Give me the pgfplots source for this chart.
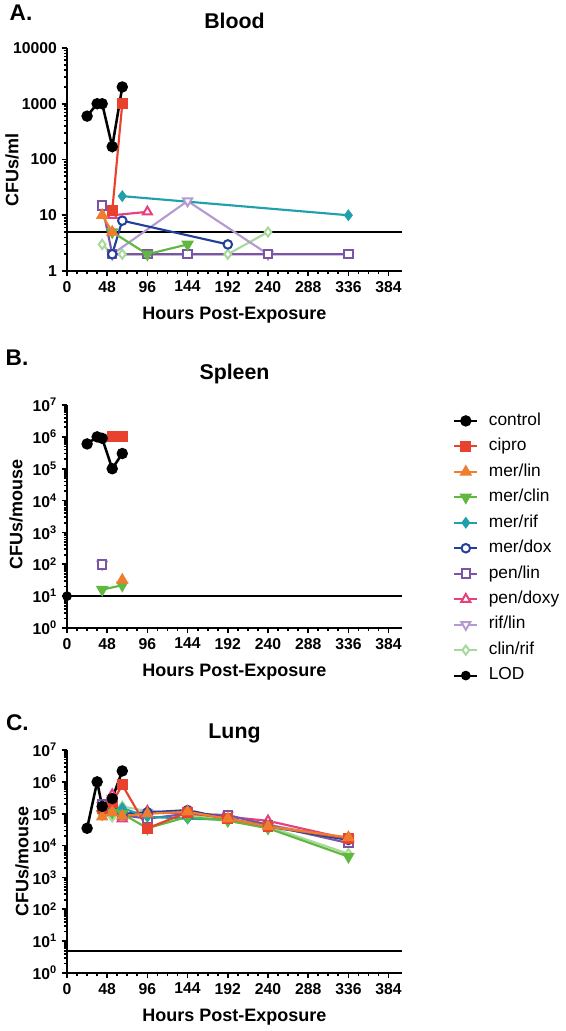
\documentclass[border=0pt]{standalone}
\usepackage{fontspec}
\setmainfont{Liberation Sans}
\usepackage{pgfplots}
\pgfplotsset{compat=1.18}

\definecolor{cCipro}{RGB}{232,66,47}
\definecolor{cMerLin}{RGB}{240,124,46}
\definecolor{cMerClin}{RGB}{96,184,64}
\definecolor{cMerRif}{RGB}{31,160,172}
\definecolor{cMerDox}{RGB}{34,64,154}
\definecolor{cPenLin}{RGB}{123,85,163}
\definecolor{cPenDoxy}{RGB}{232,64,122}
\definecolor{cRifLin}{RGB}{180,154,208}
\definecolor{cClinRif}{RGB}{166,217,154}

\tikzset{
  sControl/.style={black, line width=1.9pt, mark=*, mark size=3.3pt, mark options={solid}},
  sCipro/.style={cCipro, line width=1.6pt, mark=square*, mark size=3.3pt, mark options={solid}},
  sMerLin/.style={cMerLin, line width=1.6pt, mark=triangle*, mark size=3.9pt, mark options={solid}},
  sMerClin/.style={cMerClin, line width=1.6pt, mark=triangle*, mark size=3.9pt, mark options={solid, rotate=180}},
  sMerRif/.style={cMerRif, line width=1.6pt, mark=diamond*, mark size=3.2pt, mark options={solid}},
  sMerDox/.style={cMerDox, line width=1.6pt, mark=*, mark size=3.2pt, mark options={solid, fill=white, line width=1.5pt}},
  sPenLin/.style={cPenLin, line width=1.6pt, mark=square*, mark size=3.2pt, mark options={solid, fill=white, line width=1.5pt}},
  sPenDoxy/.style={cPenDoxy, line width=1.6pt, mark=triangle*, mark size=3.9pt, mark options={solid, fill=white, line width=1.5pt}},
  sRifLin/.style={cRifLin, line width=1.6pt, mark=triangle*, mark size=3.9pt, mark options={solid, fill=white, line width=1.5pt, rotate=180}},
  sClinRif/.style={cClinRif, line width=1.6pt, mark=diamond*, mark size=3.4pt, mark options={solid, fill=white, line width=1.5pt}},
  sLOD/.style={black, line width=1.6pt, mark=*, mark size=2.8pt},
}
\newcommand{\labfont}{\fontsize{13.5}{14}\selectfont\bfseries}
\newcommand{\tf}{\fontsize{11.8}{12}\selectfont\bfseries}
\newcommand{\tp}[1]{\tf 10\textsuperscript{#1}}

\begin{document}
\begin{tikzpicture}
\useasboundingbox (0,0) rectangle (424.5pt,-773.25pt);

\node[font=\fontsize{17}{17}\selectfont\bfseries] at (15.75pt,-9.4pt) {A.};
\node[font=\fontsize{17}{17}\selectfont\bfseries] at (12.75pt,-268.5pt) {B.};
\node[font=\fontsize{17}{17}\selectfont\bfseries] at (13.1pt,-542.25pt) {C.};

\pgfplotsset{
  every axis/.append style={
    scale only axis, width=251.25pt, height=167.25pt,
    xmin=0, xmax=400,
    axis x line*=bottom, axis y line*=left,
    axis line style={line width=1.5pt, -},
    xtick={0,48,96,144,192,240,288,336,384},
    xticklabels={\tf 0,\tf 48,\tf 96,\tf 144,\tf 192,\tf 240,\tf 288,\tf 336,\tf 384},
    minor x tick num=3,
    tick align=outside, major tick length=4pt, minor tick length=2.5pt,
    every tick/.style={black, line width=1.3pt},
    clip=false,
    xlabel={Hours Post-Exposure},
    xlabel style={at={(axis description cs:0.5,-0.2)}, anchor=center, font=\labfont},
    ylabel style={rotate=0, anchor=center, font=\labfont},
    title style={at={(axis description cs:0.5,1)}, anchor=center, font=\fontsize{16}{16}\selectfont\bfseries},
  },
}

% ---------------- Blood ----------------
\begin{axis}[at={(50.25pt,-203.25pt)}, anchor=south west,
  ymode=log,
  ymin=1, ymax=10000,
  ytick={1,10,100,1000,10000}, yticklabels={\tf 1,\tf 10,\tf 100,\tf 1000,\tf 10000},
  title={Blood}, title style={yshift=14.6pt},
  ylabel={CFUs/ml},
  ylabel style={at={(axis description cs:-0.164,0.455)}},
]
\addplot[black, line width=1.6pt] coordinates {(0,5) (400,5)};
\addplot[sClinRif] coordinates {(42,3) (54,2) (66,2) (192,2) (240,5)};
\addplot[sRifLin] coordinates {(54,2) (144,18) (240,2)};
\addplot[sPenDoxy] coordinates {(54,10) (96,11.5)};
\addplot[sPenLin] coordinates {(42,15) (54,2) (96,2) (144,2) (240,2) (336,2)};
\addplot[sMerDox] coordinates {(54,2) (66,8) (192,3)};
\addplot[sMerRif] coordinates {(66,22) (336,10)};
\addplot[sMerClin] coordinates {(54,5) (96,2) (144,3)};
\addplot[sMerLin] coordinates {(42,10) (54,5)};
\addplot[sCipro] coordinates {(54,12) (66,1000)};
\addplot[sControl] coordinates {(24,600) (36,1000) (42,1000) (54,170) (66,2000)};
\end{axis}

% ---------------- Spleen ----------------
\begin{axis}[at={(50.25pt,-471pt)}, anchor=south west,
  ymode=log,
  ymin=1, ymax=1e7,
  ytick={1,10,100,1000,10000,100000,1000000,10000000},
  yticklabels={\tp{0},\tp{1},\tp{2},\tp{3},\tp{4},\tp{5},\tp{6},\tp{7}},
  title={Spleen}, title style={yshift=17.25pt},
  ylabel={CFUs/mouse},
  ylabel style={at={(axis description cs:-0.152,0.507)}},
  legend cell align=left,
  legend style={at={(axis description cs:1.14,0.99)}, anchor=north west, draw=none, fill=none,
    font=\fontsize{13}{13}\selectfont, row sep=3pt, column sep=6pt,
    nodes={inner sep=1.8pt, text height=9.5pt, text depth=3pt}},
]
\addlegendimage{sControl}\addlegendentry{control}
\addlegendimage{sCipro}\addlegendentry{cipro}
\addlegendimage{sMerLin}\addlegendentry{mer/lin}
\addlegendimage{sMerClin}\addlegendentry{mer/clin}
\addlegendimage{sMerRif}\addlegendentry{mer/rif}
\addlegendimage{sMerDox}\addlegendentry{mer/dox}
\addlegendimage{sPenLin}\addlegendentry{pen/lin}
\addlegendimage{sPenDoxy}\addlegendentry{pen/doxy}
\addlegendimage{sRifLin}\addlegendentry{rif/lin}
\addlegendimage{sClinRif}\addlegendentry{clin/rif}
\addlegendimage{sLOD}\addlegendentry{LOD}
\addplot[sLOD, mark indices={1}, forget plot] coordinates {(0,10) (400,10)};
\addplot[sRifLin, forget plot] coordinates {(42,100)};
\addplot[sPenLin, forget plot] coordinates {(42,100)};
\addplot[sMerClin, forget plot] coordinates {(42,16) (66,22)};
\addplot[sMerLin, forget plot] coordinates {(66,32)};
\addplot[sCipro, forget plot] coordinates {(54,1e6) (66,1e6)};
\addplot[sControl, forget plot] coordinates {(24,6e5) (36,1e6) (42,9e5) (54,1e5) (66,3e5)};
\end{axis}

% ---------------- Lung ----------------
\begin{axis}[at={(50.25pt,-729.75pt)}, anchor=south west,
  ymode=log,
  ymin=1, ymax=1e7,
  ytick={1,10,100,1000,10000,100000,1000000,10000000},
  yticklabels={\tp{0},\tp{1},\tp{2},\tp{3},\tp{4},\tp{5},\tp{6},\tp{7}},
  title={Lung}, title style={yshift=6.75pt},
  ylabel={CFUs/mouse},
  ylabel style={at={(axis description cs:-0.134,0.5)}},
]
\addplot[black, line width=1.6pt] coordinates {(0,5) (400,5)};
\addplot[sClinRif] coordinates {(42,9e4) (54,8e4) (66,1.7e5) (96,1.2e5) (144,1e5) (192,6e4) (240,4e4) (336,5.5e3)};
\addplot[sRifLin] coordinates {(42,1.8e5) (54,3e5) (66,1e5) (96,1.1e5) (144,1e5) (192,9e4) (240,4.5e4) (336,1.6e4)};
\addplot[sPenDoxy] coordinates {(42,1.5e5) (54,4e5) (66,7e4) (96,1.2e5) (144,1e5) (192,8e4) (240,6e4) (336,1.6e4)};
\addplot[sPenLin] coordinates {(42,2e5) (54,2e5) (66,9e4) (96,7e4) (144,1e5) (192,9e4) (240,4.5e4) (336,1.2e4)};
\addplot[sMerDox] coordinates {(42,1.5e5) (54,1.3e5) (66,1e5) (96,1.1e5) (144,1.3e5) (192,7e4) (240,4e4) (336,1.5e4)};
\addplot[sMerRif] coordinates {(42,1.2e5) (54,1.2e5) (66,1.5e5) (96,8e4) (144,7e4) (192,6.5e4) (240,4e4) (336,1.7e4)};
\addplot[sMerClin] coordinates {(42,1e5) (54,1.1e5) (66,1e5) (96,3.5e4) (144,8e4) (192,6e4) (240,3.5e4) (336,4.5e3)};
\addplot[sCipro] coordinates {(42,1.5e5) (54,2.2e5) (66,8e5) (96,3.5e4) (144,1.1e5) (192,7e4) (240,4e4) (336,1.7e4)};
\addplot[sMerLin] coordinates {(42,8e4) (54,1.1e5) (66,8.5e4) (96,1e5) (144,1.15e5) (192,7e4) (240,4e4) (336,1.8e4)};
\addplot[sControl] coordinates {(24,3.5e4) (36,1e6) (42,1.7e5) (54,3e5) (66,2.2e6)};
\end{axis}
\end{tikzpicture}
\end{document}
